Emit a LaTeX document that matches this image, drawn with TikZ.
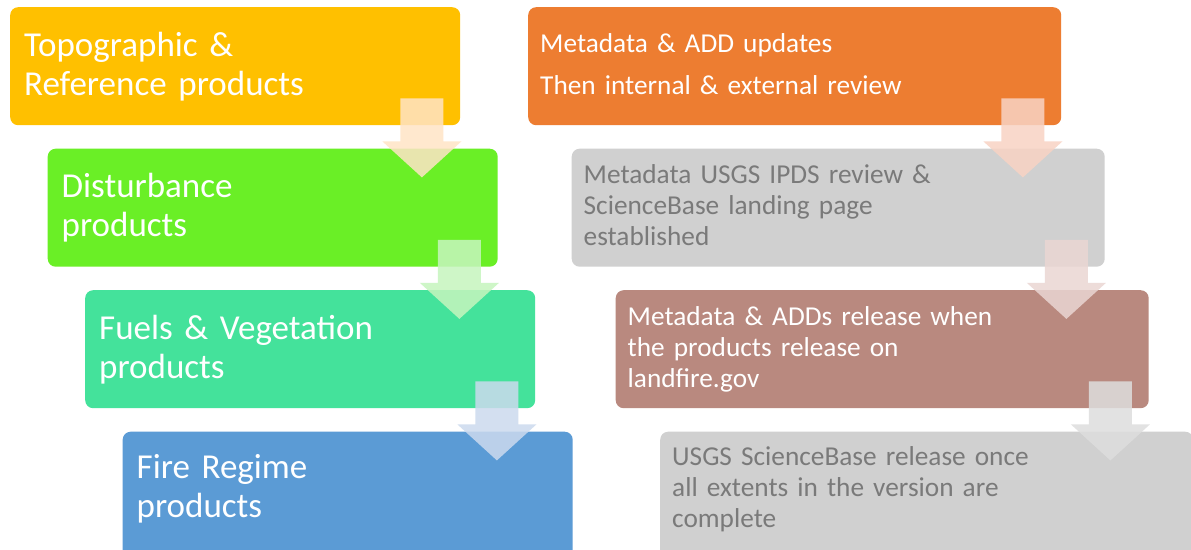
\documentclass[tikz,border=0pt]{standalone}
\usepackage{fontspec}
\setmainfont{Carlito}
\usetikzlibrary{calc}
\definecolor{cyel}{HTML}{FFC000}
\definecolor{cgrn}{HTML}{6AEF26}
\definecolor{cteal}{HTML}{44E29B}
\definecolor{cblue}{HTML}{5B9BD5}
\definecolor{corg}{HTML}{ED7D31}
\definecolor{cgray}{HTML}{D0D0D0}
\definecolor{cbrown}{HTML}{B9897F}
\definecolor{cgtext}{HTML}{7A7A7A}
\definecolor{ayel}{HTML}{FFE4C6}
\definecolor{agrn}{HTML}{C6F5BE}
\definecolor{ablue}{HTML}{CCDAEE}
\definecolor{aorg}{HTML}{F8D3C4}
\definecolor{abrown}{HTML}{EAD6D3}
\definecolor{agray}{HTML}{DEDEDE}
\tikzset{
  box/.style={rounded corners=8pt, anchor=north west, minimum height=118pt, align=left, inner ysep=0pt},
  lbox/.style={box, minimum width=450pt, text width=422pt, inner xsep=14pt, text=white, font=\fontsize{35}{39}\selectfont},
  rbox/.style={box, minimum width=533pt, text width=509pt, inner xsep=12pt, font=\fontsize{27.3}{31}\selectfont},
  flowarrow/.style={fill opacity=0.85},
}
\newcommand{\flowarr}[2]{%
  \fill[flowarrow, #2] ($(#1.south east)+(-60,-27)$) -- ($(#1.south east)+(-17,-27)$)
    -- ($(#1.south east)+(-17,16)$) -- ($(#1.south east)+(1,16)$)
    -- ($(#1.south east)+(-38.5,52)$) -- ($(#1.south east)+(-78,16)$)
    -- ($(#1.south east)+(-60,16)$) -- cycle;}
\begin{document}
\begin{tikzpicture}[x=1pt, y=-1pt]
\useasboundingbox (0,0) rectangle (1191,549);
\fill[white] (0,0) rectangle (1191,549);
\clip (0,0) rectangle (1191,549);
% left column
\node[lbox, fill=cyel] (b1) at (10,7) {Topographic \&\\Reference products};
\node[lbox, fill=cgrn] (b2) at (47.5,148.5) {Disturbance\\products};
\node[lbox, fill=cteal] (b3) at (85,290) {Fuels \& Vegetation\\products};
\node[lbox, fill=cblue, minimum height=134pt] (b4) at (122.5,431.5) {Fire Regime\\products\rule[-25pt]{0pt}{0pt}};
% right column
\node[rbox, fill=corg, text=white] (r1) at (528,7) {Metadata \& ADD updates\\[11pt]Then internal \& external review\vphantom{p}};
\node[rbox, fill=cgray, text=cgtext] (r2) at (571.5,148.5) {Metadata USGS IPDS review \&\\ScienceBase landing page\\established\vphantom{p}};
\node[rbox, fill=cbrown, text=white] (r3) at (615.5,290) {Metadata \& ADDs release when\\the products release on\\landfire.gov};
\node[rbox, fill=cgray, text=cgtext, minimum height=134pt] (r4) at (660,431.5) {USGS ScienceBase release once\\all extents in the version are\\complete\rule[-23pt]{0pt}{0pt}};
% arrows
\flowarr{b1}{ayel}
\flowarr{b2}{agrn}
\flowarr{b3}{ablue}
\flowarr{r1}{aorg}
\flowarr{r2}{abrown}
\flowarr{r3}{agray}
\end{tikzpicture}
\end{document}
